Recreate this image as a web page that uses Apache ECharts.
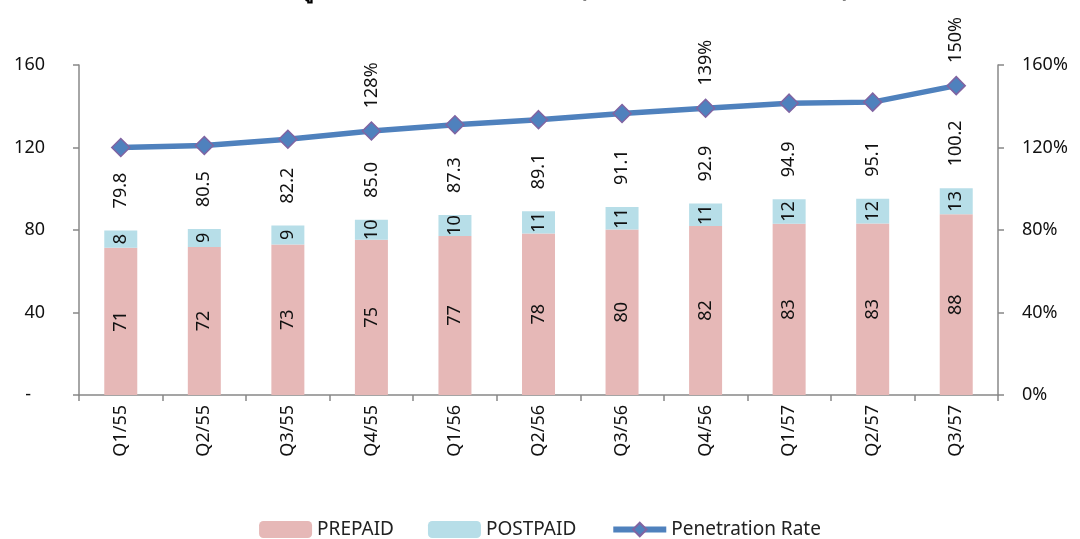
<!DOCTYPE html>
<html>
<head>
<meta charset="utf-8">
<script src="https://cdn.jsdelivr.net/npm/echarts@6/dist/echarts.min.js"></script>
<style>
html,body{margin:0;padding:0;background:#fff;}
#chart{width:1080px;height:539px;}
</style>
</head>
<body>
<div id="chart"></div>
<script>
var titleText = 'จำนวนผู้ใช้บริการโทรศัพท์เคลื่อนที่ (ล้านเลขหมาย และ ร้อยละ)';
var categories = ['Q1/55','Q2/55','Q3/55','Q4/55','Q1/56','Q2/56','Q3/56','Q4/56','Q1/57','Q2/57','Q3/57'];
var prepaid  = [71.4, 71.8, 73.0, 75.3, 77.1, 78.3, 80.2, 81.9, 83.0, 83.1, 87.6];
var postpaid = [8.4, 8.7, 9.2, 9.7, 10.2, 10.8, 10.9, 11.0, 11.9, 12.0, 12.6];
var totals   = [79.8, 80.5, 82.2, 85.0, 87.3, 89.1, 91.1, 92.9, 94.9, 95.1, 100.2];
var penetration = [120, 121, 124, 128, 131, 133.5, 136.5, 139, 141.5, 142, 150];
var penLabelShown = ['Q4/55','Q4/56','Q3/57'];
var leftTicks = ['-   ', '40', '80', '120', '160'];
var rightTicks = ['0%', '40%', '80%', '120%', '160%'];

var FONT = 'Noto Sans';
var FS = 18;
var chart = echarts.init(document.getElementById('chart'));
chart.setOption({
  animation: false,
  textStyle: {fontFamily: FONT},
  title: {
    text: titleText, left: 'center', top: -26,
    textStyle: {fontSize: 23, fontWeight: 'bold', color: '#000', fontFamily: FONT}
  },
  grid: {left: 79, right: 82, top: 65, bottom: 144},
  legend: {
    top: 515, left: 'center',
    data: [
      {name: 'PREPAID'},
      {name: 'POSTPAID'},
      {name: 'Penetration Rate', lineStyle: {width: 6, color: '#4F81BD'}}
    ],
    itemWidth: 53, itemHeight: 17, itemGap: 34,
    textStyle: {fontSize: 19, color: '#222', fontFamily: FONT}
  },
  xAxis: {
    type: 'category', data: categories,
    axisLine: {lineStyle: {color: '#888', width: 1.5}},
    axisTick: {show: true, alignWithLabel: false, length: 6, lineStyle: {color: '#888', width: 1.5}},
    axisLabel: {rotate: 90, fontSize: FS, color: '#111', margin: 10}
  },
  yAxis: [{
    type: 'value', min: 0, max: 160, interval: 40,
    axisLine: {show: true, lineStyle: {color: '#888', width: 1.5}},
    axisTick: {show: true, length: 6, lineStyle: {color: '#888', width: 1.5}},
    splitLine: {show: false},
    axisLabel: {fontSize: FS, color: '#111', margin: 34,
      formatter: function (v) { return leftTicks[Math.round(v / 40)]; }}
  }, {
    type: 'value', min: 0, max: 160, interval: 40, position: 'right',
    axisLine: {show: true, lineStyle: {color: '#888', width: 1.5}},
    axisTick: {show: true, length: 6, lineStyle: {color: '#888', width: 1.5}},
    splitLine: {show: false},
    axisLabel: {fontSize: FS, color: '#111', margin: 24,
      formatter: function (v) { return rightTicks[Math.round(v / 40)]; }}
  }],
  series: [{
    name: 'PREPAID', type: 'bar', stack: 'subs', barWidth: 33,
    data: prepaid,
    itemStyle: {color: '#E6B8B7'},
    label: {show: true, position: 'inside', rotate: 90, fontSize: FS, color: '#111',
      formatter: function (p) { return Math.round(p.value); }}
  }, {
    name: 'POSTPAID', type: 'bar', stack: 'subs', barWidth: 33,
    data: postpaid,
    itemStyle: {color: '#B7DEE8'},
    label: {show: true, position: 'inside', rotate: 90, fontSize: FS, color: '#111',
      formatter: function (p) { return Math.round(p.value); }}
  }, {
    name: 'total', type: 'bar', barWidth: 33, barGap: '-100%',
    data: totals, silent: true, z: 1,
    itemStyle: {color: 'rgba(0,0,0,0)'},
    label: {show: true, position: 'top', rotate: 90, distance: 22, fontSize: FS, color: '#111',
      align: 'left', verticalAlign: 'middle',
      formatter: function (p) { return p.value.toFixed(1); }}
  }, {
    name: 'Penetration Rate', type: 'line', yAxisIndex: 1,
    data: penetration,
    symbol: 'diamond', symbolSize: 18,
    lineStyle: {color: '#4F81BD', width: 5.5},
    itemStyle: {color: '#4F81BD', borderColor: '#8064A2', borderWidth: 1.5},
    label: {show: true, position: 'top', rotate: 90, distance: 13, fontSize: FS, color: '#111',
      align: 'left', verticalAlign: 'middle',
      formatter: function (p) {
        return penLabelShown.indexOf(categories[p.dataIndex]) >= 0 ? Math.round(p.value) + '%' : '';
      }},
    z: 5
  }]
});
</script>
</body>
</html>
